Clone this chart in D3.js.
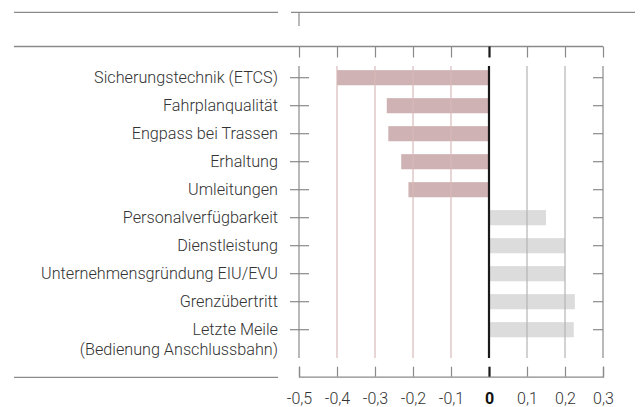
<!DOCTYPE html>
<html>
<head>
<meta charset="utf-8">
<script src="https://cdn.jsdelivr.net/npm/d3@7"></script>
<style>
  body { margin: 0; background: #fff; }
  svg { display: block; font-family: Roboto, sans-serif; font-weight: 300; }
</style>
</head>
<body>
<div id="chart"></div>
<script>
"use strict";

// categories top to bottom, label lines split on "\n"
var categories = [
    "Sicherungstechnik (ETCS)",
    "Fahrplanqualität",
    "Engpass bei Trassen",
    "Erhaltung",
    "Umleitungen",
    "Personalverfügbarkeit",
    "Dienstleistung",
    "Unternehmensgründung EIU/EVU",
    "Grenzübertritt",
    "Letzte Meile\n(Bedienung Anschlussbahn)"
];
var values = [-0.40, -0.269, -0.265, -0.231, -0.212, 0.150, 0.200, 0.200, 0.226, 0.223];
var tickValues = [-0.5, -0.4, -0.3, -0.2, -0.1, 0, 0.1, 0.2, 0.3];
var tickLabels = ["-0,5", "-0,4", "-0,3", "-0,2", "-0,1", "0", "0,1", "0,2", "0,3"];

var width = 642, height = 407;

var svg = d3.select("#chart").append("svg")
    .attr("width", width)
    .attr("height", height);

var x = d3.scaleLinear().domain([-0.5, 0.3]).range([299, 603]);

// band for categories: centers at 77.7 + 28*i
var y = d3.scaleBand()
    .domain(d3.range(categories.length))
    .range([63.7, 63.7 + 28 * categories.length])
    .paddingInner(0.46)
    .paddingOuter(0.23);

var gridTop = 66, gridBottom = 358;
var axisGrey = "#8a8a8a";

//=========== frame lines (top, header, bottom)
function hline(x1, x2, yy, col, w) {
    svg.append("line")
        .attr("x1", x1).attr("x2", x2).attr("y1", yy).attr("y2", yy)
        .attr("stroke", col).attr("stroke-width", w || 1.3);
}
hline(14, 278, 12.3, axisGrey);
hline(291, 635, 12.3, axisGrey);
hline(14, 603, 46.5, axisGrey);
hline(14, 278, 377.3, axisGrey);

// small tick in the top band
svg.append("line")
    .attr("x1", x(-0.5)).attr("x2", x(-0.5))
    .attr("y1", 12.3).attr("y2", 26)
    .attr("stroke", axisGrey).attr("stroke-width", 1.2);

//=========== bars
svg.append("g").selectAll("rect")
    .data(values)
    .enter().append("rect")
    .attr("x", function(d) { return x(Math.min(0, d)); })
    .attr("width", function(d) { return Math.abs(x(d) - x(0)); })
    .attr("y", function(d, i) { return y(i); })
    .attr("height", y.bandwidth())
    .attr("fill", function(d) { return d < 0 ? "#cfb2b3" : "#dcdcdd"; });

//=========== grid lines
svg.append("g").selectAll("line")
    .data(tickValues)
    .enter().append("line")
    .attr("x1", function(d) { return x(d); })
    .attr("x2", function(d) { return x(d); })
    .attr("y1", gridTop)
    .attr("y2", gridBottom)
    .attr("stroke", function(d) {
        if (d === 0) return "#1a1a1a";
        if (d === -0.5 || d === 0.3) return axisGrey;
        return d < 0 ? "#d9b9b9" : "#b4b4b4";
    })
    .attr("stroke-width", function(d) { return d === 0 ? 2.2 : 1.2; });

// header ticks and bottom axis
var topAxis = d3.axisBottom(x).tickValues(tickValues).tickSize(11).tickFormat("");
var gTop = svg.append("g").attr("transform", "translate(0,46.5)").call(topAxis);
gTop.select(".domain").remove();

var bottomAxis = d3.axisTop(x).tickValues(tickValues).tickSizeInner(10).tickSizeOuter(10)
    .tickFormat(function(d, i) { return tickLabels[i]; });
var gBot = svg.append("g").attr("transform", "translate(0,376.7)").call(bottomAxis);
gBot.select(".domain").attr("stroke", axisGrey).attr("stroke-width", 1.3);
gBot.selectAll("text")
    .attr("y", 27.5)
    .attr("dy", 0)
    .style("font-family", "Roboto, sans-serif")
    .style("font-size", "16px")
    .style("font-weight", function(d) { return d === 0 ? 700 : 300; })
    .attr("fill", function(d) { return d === 0 ? "#111" : "#333"; });

[gTop, gBot].forEach(function(g) {
    g.selectAll(".tick line")
        .attr("stroke", function(d) { return d === 0 ? "#1a1a1a" : axisGrey; })
        .attr("stroke-width", function(d) { return d === 0 ? 2.2 : 1.2; });
});

//=========== category ticks and labels
var catCenter = function(i) { return y(i) + y.bandwidth() / 2; };

svg.append("g").selectAll("line")
    .data(categories)
    .enter().append("line")
    .attr("x1", 290).attr("x2", 309)
    .attr("y1", function(d, i) { return catCenter(i); })
    .attr("y2", function(d, i) { return catCenter(i); })
    .attr("stroke", axisGrey).attr("stroke-width", 1.2);

svg.append("g").selectAll("line")
    .data(categories)
    .enter().append("line")
    .attr("x1", 593).attr("x2", 603)
    .attr("y1", function(d, i) { return catCenter(i); })
    .attr("y2", function(d, i) { return catCenter(i); })
    .attr("stroke", axisGrey).attr("stroke-width", 1.2);

var labels = svg.append("g").selectAll("text")
    .data(categories)
    .enter().append("text")
    .attr("x", 278)
    .attr("y", function(d, i) { return catCenter(i); })
    .attr("text-anchor", "end")
    .attr("fill", "#333")
    .style("font-size", "16.2px");

labels.each(function(d) {
    var t = d3.select(this);
    d.split("\n").forEach(function(line, k) {
        t.append("tspan").attr("x", 278).attr("dy", k === 0 ? "0.35em" : 20).text(line);
    });
});
</script>
</body>
</html>
